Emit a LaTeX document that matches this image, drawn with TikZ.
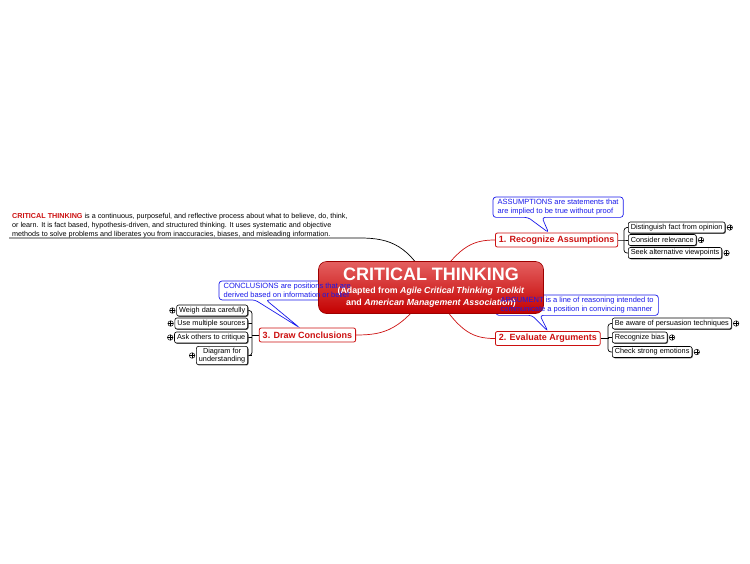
\documentclass[tikz,border=0pt]{standalone}
\usepackage{fontspec}
\setmainfont{Liberation Sans}
\usetikzlibrary{shadows,calc}
\pgfdeclarelayer{bg}\pgfdeclarelayer{fg}
\pgfsetlayers{bg,main,fg}
\definecolor{ctred}{RGB}{204,16,16}
\definecolor{ctblue}{RGB}{25,25,235}
\definecolor{cttop}{RGB}{228,96,96}
\definecolor{ctbot}{RGB}{196,0,0}
\tikzset{
 leaf/.style={draw=black, line width=0.6pt, rounded corners=2pt, fill=white, font=\fontsize{7.3}{8.3}\selectfont, inner xsep=2.5pt, inner ysep=1.5pt, minimum height=11pt, drop shadow={shadow xshift=0.8pt,shadow yshift=-0.8pt,fill=black!65,opacity=1}},
 branch/.style={draw=ctred, line width=0.8pt, rounded corners=2pt, fill=white, text=ctred, font=\fontsize{9}{10}\selectfont\bfseries, inner xsep=3.5pt, inner ysep=2pt, minimum height=14pt},
 central/.style={draw=ctbot!80!black, line width=0.6pt, rounded corners=8pt, shading=axis, top color=cttop, middle color=ctbot, bottom color=ctbot, minimum width=225pt, minimum height=52pt, text=white, align=center, font=\bfseries},
 ctext/.style={text=ctblue, font=\fontsize{7.5}{9}\selectfont, align=left, inner xsep=4.5pt, inner ysep=2pt, anchor=north west},
 cbox/.style={draw=ctblue, line width=0.7pt, fill=white, rounded corners=3pt},
 plus/.style={circle, draw=black, line width=0.5pt, fill=white, minimum size=5.5pt, inner sep=0pt, path picture={\draw[line width=0.5pt] (path picture bounding box.west) -- (path picture bounding box.east) (path picture bounding box.north) -- (path picture bounding box.south);}},
 redlink/.style={draw=ctred, line width=0.7pt},
 blklink/.style={draw=black, line width=0.7pt},
}
\begin{document}
\begin{tikzpicture}[x=1pt,y=-1pt]
\useasboundingbox (0,0) rectangle (750,563);

% central node
\node[central] (ct) at (431,287.5) {{\fontsize{18}{19}\selectfont CRITICAL THINKING}\\[1pt]
{\fontsize{8.8}{10}\selectfont (Adapted from \textit{Agile Critical Thinking Toolkit}}\\
{\fontsize{8.8}{10}\selectfont and \textit{American Management Association})}};

% branch nodes
\node[branch, anchor=west] (n1) at (495,240) {1. Recognize Assumptions};
\node[branch, anchor=west] (n2) at (495,338.5) {2. Evaluate Arguments};
\node[branch, anchor=east] (n3) at (356,335) {3. Draw Conclusions};

% note
\node[anchor=north west, inner sep=0pt, align=left, font=\fontsize{7.2}{9}\selectfont] (note) at (12,213.5)
{\textcolor{ctred}{\textbf{CRITICAL THINKING}} is a continuous, purposeful, and reflective process about what to believe, do, think,\\
or learn. It is fact based, hypothesis-driven, and structured thinking. It uses systematic and objective\\
methods to solve problems and liberates you from inaccuracies, biases, and misleading information.};
\coordinate (nk) at (360,238);
\coordinate (nl) at (9,238);

% leaves of branch 1
\node[leaf, anchor=west] (c11) at (628,227.5) {Distinguish fact from opinion};
\node[leaf, anchor=west] (c12) at (628,240) {Consider relevance};
\node[leaf, anchor=west] (c13) at (628,253) {Seek alternative viewpoints};
% leaves of branch 2
\node[leaf, anchor=west] (c21) at (612,323.5) {Be aware of persuasion techniques};
\node[leaf, anchor=west] (c22) at (612,337.5) {Recognize bias};
\node[leaf, anchor=west] (c23) at (612,352) {Check strong emotions};
% leaves of branch 3
\node[leaf, anchor=east] (c31) at (248,310.5) {Weigh data carefully};
\node[leaf, anchor=east] (c32) at (248,323.5) {Use multiple sources};
\node[leaf, anchor=east] (c33) at (248,337.5) {Ask others to critique};
\node[leaf, anchor=east, align=center, font=\fontsize{7.3}{8.5}\selectfont] (c34) at (248,355.5) {Diagram for\\understanding};

% plus markers
\node[plus, anchor=west] (p11) at ($(c11.east)+(1.5,0)$) {};
\node[plus, anchor=west] (p12) at ($(c12.east)+(1.5,0)$) {};
\node[plus, anchor=west] (p13) at ($(c13.east)+(1.5,0)$) {};
\node[plus, anchor=west] (p21) at ($(c21.east)+(1.5,0)$) {};
\node[plus, anchor=west] (p22) at ($(c22.east)+(1.5,0)$) {};
\node[plus, anchor=west] (p23) at ($(c23.east)+(1.5,0)$) {};
\node[plus, anchor=east] (p31) at ($(c31.west)+(-1,0)$) {};
\node[plus, anchor=east] (p32) at ($(c32.west)+(-1,0)$) {};
\node[plus, anchor=east] (p33) at ($(c33.west)+(-1,0)$) {};
\node[plus, anchor=east] (p34) at ($(c34.west)+(-1,0)$) {};

% callout texts (on top)
\begin{pgfonlayer}{fg}
\node[ctext] (a1) at (493,197) {ASSUMPTIONS are statements that\\are implied to be true without proof};
\node[ctext] (a2) at (496,295) {ARGUMENT is a line of reasoning intended to\\communicate a position in convincing manner};
\node[ctext] (a3) at (219,281) {CONCLUSIONS are positions that are\\derived based on information or belief};
\end{pgfonlayer}

\begin{pgfonlayer}{bg}
% connectors
\draw[blklink] (ct.center) .. controls (410,245) and (390,238) .. (nk) -- (nl);
\draw[redlink] (ct.center) .. controls (458,248) and (470,240) .. (n1.west);
\draw[redlink] (ct.center) .. controls (458,330) and (470,338.5) .. (n2.west);
\draw[redlink] (ct.center) .. controls (402,330) and (385,335) .. (n3.east);
% brackets
\coordinate (b1) at ($(c11.west)+(-4,0)$);
\draw[blklink, rounded corners=3pt] (c11.west) -- (b1) |- (c13.west);
\draw[blklink] (n1.east) -- (n1.east -| b1) -- (c12.west);
\coordinate (b2) at ($(c21.west)+(-4,0)$);
\draw[blklink, rounded corners=3pt] (c21.west) -- (b2) |- (c23.west);
\draw[blklink] (n2.east) -- (n2.east -| b2) |- (c22.west);
\coordinate (b3) at ($(c31.east)+(4,0)$);
\draw[blklink, rounded corners=3pt] (c31.east) -- (b3) |- (c34.east);
\draw[blklink] (n3.west) -- (n3.west -| b3);
\draw[blklink] (c32.east) -- (c32.east -| b3);
\draw[blklink] (c33.east) -- (c33.east -| b3);
\draw[blklink] (c34.east) -- (c34.east -| b3);
% callout boxes
\draw[cbox] (a1.north west) -- (a1.north east) -- (a1.south east)
  -- ($(a1.south west)+(49,0)$) -- ($(n1.north)+(-8,0)$) -- ($(a1.south west)+(35,0)$) -- (a1.south west) -- cycle;
\draw[cbox] (a2.north west) -- (a2.north east) -- (a2.south east)
  -- ($(a2.south west)+(44,0)$) -- (n2.north) -- ($(a2.south west)+(36,0)$) -- (a2.south west) -- cycle;
\draw[cbox] (a3.north west) -- (a3.north east) -- (a3.south east)
  -- ($(a3.south west)+(47,0)$) -- ($(n3.north)+(-8,0)$) -- ($(a3.south west)+(36,0)$) -- (a3.south west) -- cycle;
\end{pgfonlayer}
\end{tikzpicture}
\end{document}
